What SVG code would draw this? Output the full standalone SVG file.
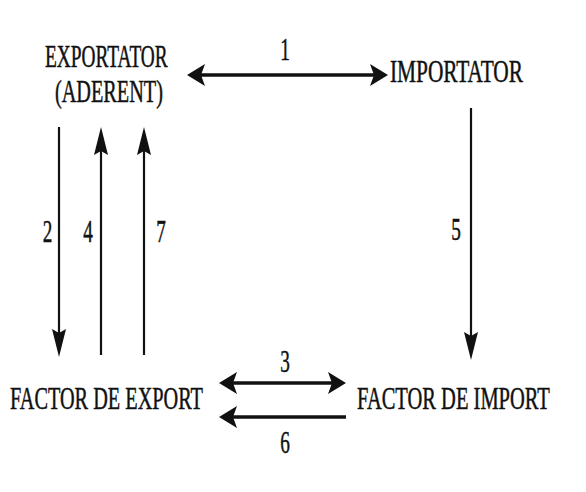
<svg xmlns="http://www.w3.org/2000/svg" width="586" height="492" viewBox="0 0 586 492">
  <defs>
    <style>
      .lbl { font-family: "Liberation Serif", "Times New Roman", serif; font-size: 32px; fill: #111; stroke: #111; stroke-width: 0.5; }
      .num { font-family: "Liberation Serif", "Times New Roman", serif; font-size: 31px; fill: #111; stroke: #111; stroke-width: 0.5; text-anchor: middle; }
      .h { stroke: #111; stroke-width: 3.5; fill: none; }
      .v { stroke: #111; stroke-width: 2.2; fill: none; }
    </style>
    <marker id="ah" markerUnits="userSpaceOnUse" viewBox="0 -12 18 24" markerWidth="18" markerHeight="24" refX="9" refY="0" orient="auto-start-reverse">
      <path d="M0,-11 L18,0 L0,11 L4,0 Z" fill="#111"/>
    </marker>
    <marker id="av" markerUnits="userSpaceOnUse" viewBox="0 -8 28 16" markerWidth="28" markerHeight="16" refX="14" refY="0" orient="auto-start-reverse">
      <path d="M0,-7 L28,0 L0,7 L4,0 Z" fill="#111"/>
    </marker>
  </defs>
  <rect width="586" height="492" fill="#fff"/>

  <g id="exportator">
    <text class="lbl" transform="translate(45,67) scale(0.605,1)" x="0" y="0">EXPORTATOR</text>
    <text class="lbl" transform="translate(55,102) scale(0.633,1)" x="0" y="0">(ADERENT)</text>
  </g>
  <g id="importator">
    <text class="lbl" transform="translate(390,82) scale(0.667,1)" x="0" y="0" font-size="30">IMPORTATOR</text>
  </g>
  <g id="factor-export">
    <text class="lbl" transform="translate(10,409) scale(0.634,1)" x="0" y="0">FACTOR DE EXPORT</text>
  </g>
  <g id="factor-import">
    <text class="lbl" transform="translate(357,409) scale(0.641,1)" x="0" y="0">FACTOR DE IMPORT</text>
  </g>

  <g id="connectors">
    <line class="h" x1="196" y1="75" x2="379" y2="75" marker-start="url(#ah)" marker-end="url(#ah)"/>
    <line class="v" x1="59" y1="127" x2="59" y2="343" marker-end="url(#av)"/>
    <line class="v" x1="101" y1="355" x2="101" y2="141" marker-end="url(#av)"/>
    <line class="v" x1="144" y1="355" x2="144" y2="141" marker-end="url(#av)"/>
    <line class="v" x1="471" y1="108" x2="471" y2="346" marker-end="url(#av)"/>
    <line class="h" x1="228" y1="383" x2="337" y2="383" marker-start="url(#ah)" marker-end="url(#ah)"/>
    <line class="h" x1="346" y1="417" x2="228" y2="417" marker-end="url(#ah)"/>
  </g>

  <g id="connector-labels">
    <text class="num" transform="translate(285,60) scale(0.62,1)">1</text>
    <text class="num" transform="translate(47.5,242) scale(0.62,1)">2</text>
    <text class="num" transform="translate(88,242) scale(0.62,1)">4</text>
    <text class="num" transform="translate(161,242) scale(0.62,1)">7</text>
    <text class="num" transform="translate(456,240) scale(0.62,1)">5</text>
    <text class="num" transform="translate(285,372) scale(0.62,1)">3</text>
    <text class="num" transform="translate(285,453) scale(0.62,1)">6</text>
  </g>
</svg>
